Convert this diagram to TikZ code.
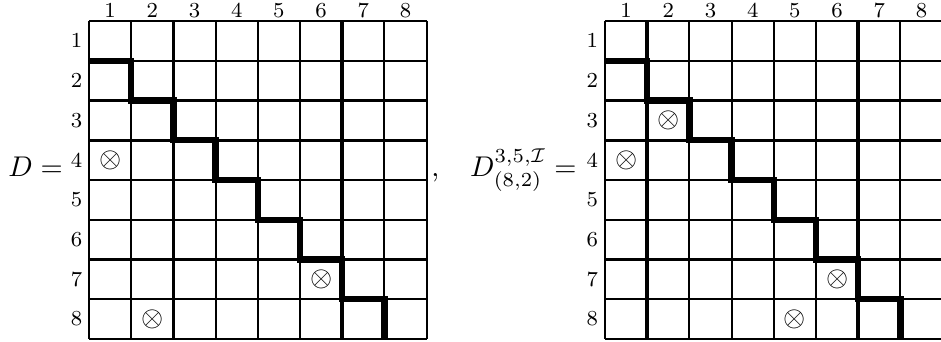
\documentclass[tikz,border=0pt]{standalone}
\usepackage{amsmath}
\usepackage{amssymb}

\begin{document}
\begin{tikzpicture}[
    x=14.81pt, y=-13.95pt,
    cellline/.style={line width=0.75pt},
    blockline/.style={line width=1.2pt},
    stairline/.style={line width=2.2pt},
    index/.style={font=\fontsize{7.5}{9}\selectfont, inner sep=0pt},
    cross/.style={inner sep=0pt}
  ]
    \useasboundingbox (-2.109,-0.528) rectangle (20.19,8.075);

    % matrix D
    \begin{scope}
      \foreach \k in {0,...,8} {
        \draw[cellline] (\k,0) -- (\k,8);
        \draw[cellline] (0,\k) -- (8,\k);
      }
      \foreach \k in {2,6} \draw[blockline] (\k,0) -- (\k,8);
      \foreach \k in {3,6} \draw[blockline] (0,\k) -- (8,\k);
      \draw[stairline] (0,1) \foreach \k in {1,...,7} { -| (\k,\k+1) };
      \foreach \k in {1,...,8} {
        \node[index] (colA\k) at (\k-0.5,-0.27) {\k};
        \node[index, anchor=east] (rowA\k) at (-0.15,\k-0.5) {\k};
      }
      \foreach \r/\c in {4/1, 7/6, 8/2}
        \node[cross] (crossA\r\c) at (\c-0.5,\r-0.5) {$\otimes$};
      \node[anchor=base east, inner sep=0pt] (nameA) at (-0.609,3.917) {$D =$};
      \node[anchor=base west, inner sep=0pt] (comma) at (8.1,3.917) {,};
    \end{scope}

    % matrix D^{3,5,I}_{(8,2)}
    \begin{scope}[shift={(12.227,0)}]
      \foreach \k in {0,...,8} {
        \draw[cellline] (\k,0) -- (\k,8);
        \draw[cellline] (0,\k) -- (8,\k);
      }
      \foreach \k in {1,6} \draw[blockline] (\k,0) -- (\k,8);
      \foreach \k in {3,6} \draw[blockline] (0,\k) -- (8,\k);
      \draw[stairline] (0,1) \foreach \k in {1,...,7} { -| (\k,\k+1) };
      \foreach \k in {1,...,8} {
        \node[index] (colB\k) at (\k-0.5,-0.27) {\k};
        \node[index, anchor=east] (rowB\k) at (-0.15,\k-0.5) {\k};
      }
      \foreach \r/\c in {3/2, 4/1, 7/6, 8/5}
        \node[cross] (crossB\r\c) at (\c-0.5,\r-0.5) {$\otimes$};
      \node[anchor=base east, inner sep=0pt] (nameB) at (-0.66,3.917) {$D^{3,5,\mathcal{I}}_{(8,2)} =$};
    \end{scope}
\end{tikzpicture}
\end{document}
